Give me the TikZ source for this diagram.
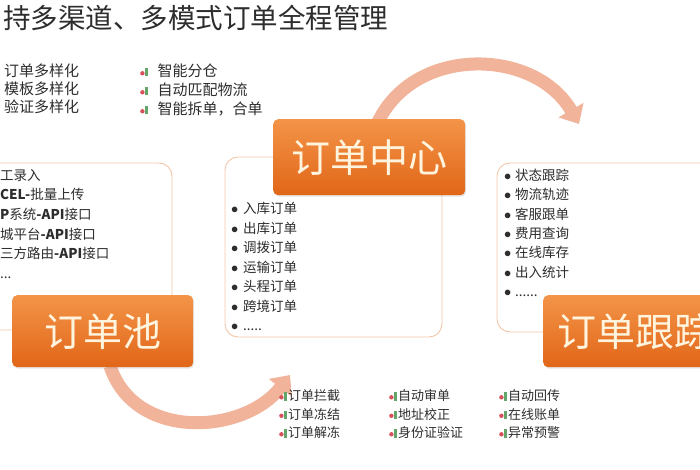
\documentclass[tikz,border=0pt]{standalone}
\usepackage{fontspec}
\setmainfont{Noto Sans CJK SC}
\usepackage{tikz}
\usetikzlibrary{arrows.meta,positioning,shadows}

\definecolor{hubtop}{RGB}{243,148,72}
\definecolor{hubbot}{RGB}{225,102,24}
\definecolor{hubtxt}{RGB}{255,244,222}
\definecolor{rim}{RGB}{243,198,168}
\definecolor{flowc}{RGB}{241,180,155}
\definecolor{inkc}{RGB}{45,45,45}
\definecolor{icored}{RGB}{215,80,90}
\definecolor{icogrn}{RGB}{100,165,105}

\newcommand{\ico}{\tikz[x=1pt,y=1pt,baseline=0pt]{\fill[icored] (2.2,3.2) circle (2.2);
  \fill[icogrn] (5.2,0) rectangle (7.4,8.5);}}

\begin{document}
\begin{tikzpicture}[x=1pt,y=-1pt,>=Triangle,font=\fontsize{13.5}{16}\selectfont]
\tikzstyle{pane}=[draw=rim,line width=0.9pt,rounded corners=13pt,fill=white]
\tikzstyle{hub}=[rectangle,rounded corners=5pt,top color=hubtop,bottom color=hubbot,text=hubtxt,
  font=\fontsize{39}{39}\selectfont,anchor=north west,inner sep=0pt,
  drop shadow={opacity=0.2,shadow xshift=1pt,shadow yshift=-1.5pt}]
\tikzstyle{flow}=[draw=flowc,line width=13pt,-{Triangle[width=28pt,length=16pt]}]
\tikzstyle{line}=[anchor=west,inner sep=0pt,text=inkc,text height=0.8em,text depth=0.1em]
\useasboundingbox (0,0) rectangle (700,470);

% title
\node[line,font=\fontsize{27.5}{28}\selectfont] (title) at (3,25) {持多渠道、多模式订单全程管理};

% top notes
\foreach \t [count=\i] in {订单多样化,模板多样化,验证多样化}
  \node[line,font=\fontsize{15}{16}\selectfont] (kind-\i) at (4,73+18*\i-18) {\t};
\foreach \t [count=\i] in {智能分仓,自动匹配物流,智能拆单，合单}
  \node[line,font=\fontsize{15}{16}\selectfont] (feat-\i) at (140,73+19*\i-19) {\ico\hspace{10pt}\t};

% panels
\draw[pane] (-20,163) rectangle (172,330);
\draw[pane] (225,157) rectangle (442,337);
\draw[pane] (497,163) rectangle (730,332);

% arrows
\draw[flow] (378,122) .. controls (415,45) and (535,48) .. (579,124);
\draw[flow] (110,366) .. controls (135,442) and (245,434) .. (290,375);

% hubs
\node[hub,minimum width=181,minimum height=72] (pool) at (12,295) {订单池};
\node[hub,minimum width=192,minimum height=76] (center) at (273,119) {订单中心};
\node[hub,minimum width=184,minimum height=72] (track) at (543,295) {订单跟踪};

% panel lists
\foreach \t [count=\i] in {工录入,{\bfseries CEL-}批量上传,{\bfseries P}系统{\bfseries -API}接口,
    城平台{\bfseries -API}接口,三方路由{\bfseries -API}接口,{{...}}}
  \node[line] (src-\i) at (0,177+19.5*\i-19.5) {\t};
\foreach \t [count=\i] in {入库订单,出库订单,调拨订单,运输订单,头程订单,跨境订单,{{.....}}}
  \node[line] (type-\i) at (231,210+19.5*\i-19.5) {\makebox[12pt][l]{$\bullet$}\t};
\foreach \t [count=\i] in {状态跟踪,物流轨迹,客服跟单,费用查询,在线库存,出入统计,{{......}}}
  \node[line] (step-\i) at (504,177+19.3*\i-19.3) {\makebox[11pt][l]{$\bullet$}\t};

% bottom notes
\foreach \t [count=\i] in {订单拦截,订单冻结,订单解冻}
  \node[line,font=\fontsize{13}{15}\selectfont] (ctl-\i) at (279,397+18.5*\i-18.5) {\ico\hspace{1.5pt}\t};
\foreach \t [count=\i] in {自动审单,地址校正,身份证验证}
  \node[line,font=\fontsize{13}{15}\selectfont] (chk-\i) at (389,397+18.5*\i-18.5) {\ico\hspace{1.5pt}\t};
\foreach \t [count=\i] in {自动回传,在线账单,异常预警}
  \node[line,font=\fontsize{13}{15}\selectfont] (ret-\i) at (499,397+18.5*\i-18.5) {\ico\hspace{1.5pt}\t};
\end{tikzpicture}
\end{document}
